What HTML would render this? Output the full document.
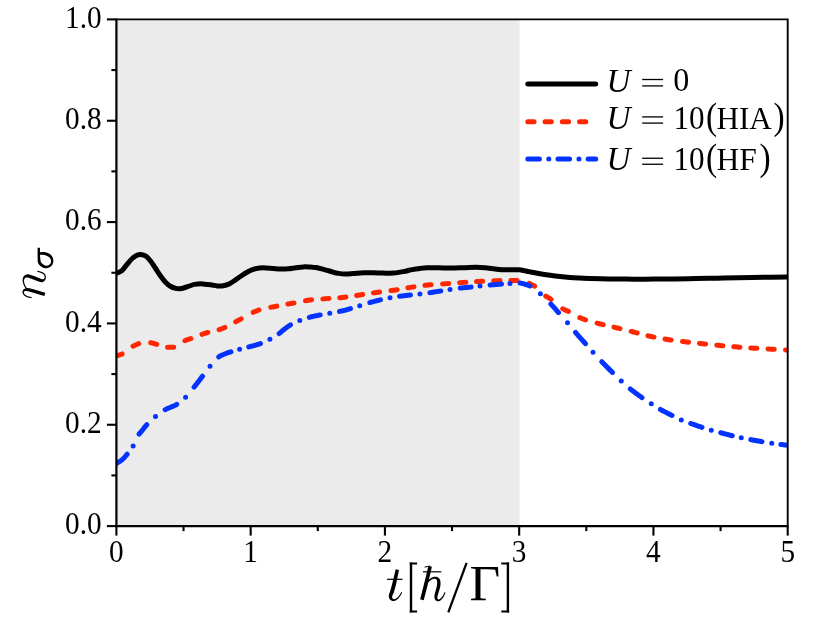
<!DOCTYPE html>
<html><head><meta charset="utf-8"><title>chart</title>
<style>html,body{margin:0;padding:0;background:#fff;overflow:hidden}body{width:831px;height:625px;position:relative;font-family:"Liberation Serif",serif}</style>
</head><body>
<svg width="831" height="625" viewBox="0 0 831 625" style="position:absolute;left:0;top:0;will-change:transform">
<defs><clipPath id="cp"><rect x="116.40" y="19.40" width="671.30" height="506.70"/></clipPath></defs>
<rect x="0" y="0" width="831" height="625" fill="#fff"/>
<rect x="116.4" y="19.4" width="403.10" height="506.70" fill="#EBEBEB"/>
<g clip-path="url(#cp)" fill="none" stroke-linejoin="round">
<path d="M116.50,273.30C117.42,272.85 120.25,272.08 122.00,270.60C123.75,269.12 125.33,266.38 127.00,264.40C128.67,262.42 130.33,260.27 132.00,258.75C133.67,257.23 135.54,255.96 137.00,255.25C138.46,254.54 139.29,254.38 140.75,254.50C142.21,254.62 144.08,254.88 145.75,256.00C147.42,257.12 149.08,259.12 150.75,261.25C152.42,263.38 154.08,266.25 155.75,268.75C157.42,271.25 159.08,273.96 160.75,276.25C162.42,278.54 164.08,280.79 165.75,282.50C167.42,284.21 169.08,285.52 170.75,286.50C172.42,287.48 174.29,288.02 175.75,288.40C177.21,288.77 178.04,288.86 179.50,288.75C180.96,288.64 182.83,288.21 184.50,287.75C186.17,287.29 187.83,286.56 189.50,286.00C191.17,285.44 192.62,284.77 194.50,284.40C196.38,284.02 198.67,283.75 200.75,283.75C202.83,283.75 205.12,284.19 207.00,284.40C208.88,284.61 210.33,284.75 212.00,285.00C213.67,285.25 215.33,285.73 217.00,285.90C218.67,286.07 220.12,286.25 222.00,286.00C223.88,285.75 226.17,285.30 228.25,284.40C230.33,283.50 232.42,281.96 234.50,280.60C236.58,279.24 238.67,277.64 240.75,276.25C242.83,274.86 244.92,273.39 247.00,272.25C249.08,271.11 251.17,270.09 253.25,269.40C255.33,268.71 257.42,268.35 259.50,268.10C261.58,267.85 263.46,267.83 265.75,267.90C268.04,267.97 270.75,268.32 273.25,268.50C275.75,268.68 278.25,268.96 280.75,269.00C283.25,269.04 285.75,268.96 288.25,268.75C290.75,268.54 293.25,268.06 295.75,267.75C298.25,267.44 300.75,267.01 303.25,266.90C305.75,266.79 308.62,267.00 310.75,267.10C312.88,267.20 313.88,267.12 316.00,267.50C318.12,267.88 321.00,268.73 323.50,269.40C326.00,270.07 328.50,270.83 331.00,271.50C333.50,272.17 336.00,272.98 338.50,273.40C341.00,273.82 343.50,273.98 346.00,274.00C348.50,274.02 350.58,273.71 353.50,273.50C356.42,273.29 360.17,272.88 363.50,272.75C366.83,272.62 370.17,272.69 373.50,272.75C376.83,272.81 380.17,273.04 383.50,273.10C386.83,273.16 390.17,273.35 393.50,273.10C396.83,272.85 400.38,272.18 403.50,271.60C406.62,271.02 409.50,270.13 412.25,269.60C415.00,269.07 417.46,268.71 420.00,268.40C422.54,268.09 424.38,267.86 427.50,267.75C430.62,267.64 434.79,267.69 438.75,267.75C442.71,267.81 447.08,268.10 451.25,268.10C455.42,268.10 459.58,267.89 463.75,267.75C467.92,267.61 472.71,267.25 476.25,267.25C479.79,267.25 481.88,267.46 485.00,267.75C488.12,268.04 492.17,268.68 495.00,269.00C497.83,269.32 499.83,269.52 502.00,269.65C504.17,269.78 506.00,269.77 508.00,269.80C510.00,269.83 512.17,269.80 514.00,269.80C515.83,269.80 517.80,269.77 519.00,269.80C520.20,269.83 520.20,269.82 521.20,270.00C522.20,270.18 523.53,270.53 525.00,270.85C526.47,271.17 527.50,271.42 530.00,271.90C532.50,272.38 536.67,273.19 540.00,273.75C543.33,274.31 546.67,274.79 550.00,275.25C553.33,275.71 556.67,276.14 560.00,276.50C563.33,276.86 566.67,277.15 570.00,277.40C573.33,277.65 576.67,277.82 580.00,278.00C583.33,278.18 586.50,278.32 590.00,278.45C593.50,278.58 597.17,278.71 601.00,278.80C604.83,278.89 609.00,278.95 613.00,279.00C617.00,279.05 620.50,279.08 625.00,279.10C629.50,279.12 635.00,279.15 640.00,279.15C645.00,279.15 649.17,279.14 655.00,279.10C660.83,279.06 668.17,278.99 675.00,278.90C681.83,278.81 689.00,278.68 696.00,278.55C703.00,278.43 710.00,278.28 717.00,278.15C724.00,278.02 730.00,277.89 738.00,277.75C746.00,277.61 756.72,277.43 765.00,277.30C773.28,277.18 783.92,277.05 787.70,277.00" stroke="#000" stroke-width="5"/>
<path d="M116.28,355.94L116.40,355.90L116.91,355.74L117.34,355.60L117.69,355.49L118.00,355.39L118.26,355.31L118.50,355.23L118.73,355.16L118.96,355.08L119.22,355.00L119.50,354.90L119.80,354.80L120.10,354.71L120.39,354.62L120.68,354.52L120.97,354.43L121.27,354.33L121.57,354.22L121.87,354.10L122.16,353.97M133.06,346.22L133.10,346.20L133.45,346.01L133.79,345.82L134.14,345.65L134.48,345.49L134.82,345.33L135.16,345.18L135.49,345.03L135.83,344.89L136.16,344.74L136.50,344.60L136.83,344.46L137.17,344.31L137.50,344.17L137.83,344.03L138.16,343.90L138.49,343.77L138.71,343.68M150.67,342.67L151.01,342.73L151.35,342.80L151.69,342.88L152.03,342.96L152.36,343.04L152.69,343.13L153.03,343.21L153.36,343.31L153.70,343.40L154.03,343.50L154.36,343.59L154.67,343.69L154.99,343.79L155.31,343.90L155.63,344.01L155.97,344.12L156.32,344.24L156.64,344.35M167.57,347.15L167.64,347.15L168.06,347.20L168.46,347.23L168.84,347.26L169.22,347.28L169.58,347.29L169.94,347.29L170.29,347.30L170.65,347.30L171.00,347.30L171.35,347.30L171.69,347.30L172.01,347.30L172.34,347.29L172.66,347.28L172.98,347.26L173.30,347.24L173.62,347.20L173.76,347.19M184.99,340.69L185.30,340.50L185.64,340.31L185.98,340.15L186.31,340.01L186.63,339.89L186.94,339.78L187.26,339.68L187.57,339.59L187.88,339.50L188.19,339.40L188.50,339.30L188.81,339.20L189.10,339.10L189.38,339.02L189.66,338.93L189.94,338.85L190.24,338.76L190.54,338.67L190.80,338.58M201.96,334.31L202.11,334.26L202.48,334.13L202.83,334.01L203.15,333.90L203.46,333.79L203.76,333.69L204.06,333.60L204.36,333.50L204.67,333.40L205.00,333.30L205.33,333.20L205.65,333.10L205.96,333.00L206.27,332.90L206.59,332.81L206.91,332.71L207.25,332.61L207.61,332.51L207.87,332.44M219.11,329.67L219.43,329.57L219.82,329.45L220.18,329.33L220.52,329.22L220.84,329.10L221.15,328.98L221.45,328.87L221.76,328.75L222.07,328.63L222.40,328.50L222.73,328.37L223.03,328.25L223.33,328.13L223.63,328.01L223.93,327.89L224.24,327.76L224.57,327.61L224.91,327.46M235.65,321.81L235.75,321.75L236.20,321.50L236.61,321.27L237.00,321.06L237.35,320.87L237.69,320.69L238.01,320.52L238.33,320.36L238.64,320.20L238.95,320.04L239.27,319.87L239.60,319.70L239.93,319.53L240.24,319.37L240.54,319.21L240.84,319.06L241.13,318.90M253.24,312.36L253.98,312.01L254.87,311.59L255.76,311.20L256.64,310.83L257.50,310.50L258.35,310.20L258.96,310.00M270.76,307.27L270.76,307.27L271.66,307.11L272.65,306.93L273.75,306.73L275.00,306.50L276.41,306.23L276.86,306.15M287.86,304.07L288.86,303.88L290.71,303.53L292.50,303.20L293.95,302.93M305.46,300.72L306.66,300.51L308.35,300.24L310.00,300.00L311.59,299.80M322.79,298.91L323.41,298.87L325.00,298.75L326.65,298.63L328.35,298.52L328.98,298.48M339.74,297.76L340.76,297.68L342.50,297.50L344.21,297.30L345.90,297.08M356.57,295.44L357.71,295.26L359.40,295.00L361.08,294.75L362.70,294.51M373.47,292.90L374.54,292.74L376.25,292.50L377.98,292.26L379.62,292.05M390.98,290.59L392.02,290.45L393.75,290.20L395.46,289.94L397.11,289.67M407.87,287.84L408.91,287.67L410.60,287.40L412.30,287.14L413.99,286.88M424.98,285.32L426.03,285.19L427.75,285.00L429.47,284.83L431.15,284.68M442.50,283.92L443.27,283.87L445.00,283.75L446.73,283.62L448.45,283.50L448.68,283.48M459.59,282.68L460.53,282.62L462.25,282.50L463.97,282.38L465.69,282.26L465.78,282.26M476.50,281.56L477.69,281.49L479.40,281.40L481.11,281.31L482.69,281.23M493.75,280.79L494.78,280.75L496.50,280.70L498.27,280.65L499.95,280.61M510.90,280.42L511.00,280.42L512.47,280.41L513.75,280.40L514.82,280.39L515.69,280.38L516.41,280.38L517.01,280.37L517.10,280.38M529.19,283.25L529.23,283.27L529.63,283.49L530.03,283.71L530.42,283.94L530.83,284.17L531.25,284.40L531.67,284.61L532.06,284.79L532.44,284.96L532.81,285.13L533.19,285.30L533.59,285.51L534.02,285.76L534.49,286.06L534.65,286.18M545.75,296.10L545.76,296.11L546.16,296.35L546.54,296.57L546.91,296.78L547.29,297.00L547.68,297.23L548.10,297.50L548.52,297.77L548.92,298.01L549.30,298.24L549.68,298.46L550.07,298.69L550.47,298.94L550.91,299.22L551.05,299.32M562.71,308.84L562.72,308.85L563.16,309.06L563.58,309.24L564.00,309.42L564.41,309.59L564.85,309.78L565.30,310.00L565.76,310.22L566.20,310.42L566.62,310.61L567.05,310.80L567.47,310.98L567.92,311.18L568.36,311.38M579.76,317.66L580.02,317.77L580.45,317.94L580.88,318.10L581.30,318.26L581.74,318.42L582.20,318.60L582.63,318.77L583.02,318.92L583.36,319.06L583.71,319.20L584.06,319.33L584.46,319.47L584.92,319.63L585.46,319.81L585.57,319.84M597.16,323.17L597.89,323.36L599.40,323.75L600.99,324.14L602.67,324.55L603.18,324.67M613.94,327.15L615.69,327.57L617.50,328.00L619.29,328.44L619.96,328.60M631.17,331.43L631.67,331.55L633.35,331.98L635.00,332.40L636.59,332.81L637.18,332.97M647.93,335.78L648.41,335.89L650.00,336.25L651.65,336.60L653.34,336.95L653.99,337.08M664.97,339.09L665.74,339.22L667.50,339.50L669.25,339.77L671.00,340.02L671.09,340.03M682.48,341.45L683.25,341.54L685.00,341.75L686.75,341.96L688.50,342.17L688.64,342.19M699.48,343.42L700.75,343.56L702.50,343.75L704.25,343.94L705.65,344.08M716.74,345.19L718.25,345.34L720.00,345.50L721.75,345.66L722.91,345.77M733.74,346.70L734.00,346.72L735.75,346.86L737.50,347.00L739.25,347.14L739.92,347.19M750.74,347.97L751.50,348.02L753.25,348.14L755.00,348.25L756.76,348.36L756.93,348.37M768.00,349.01L769.15,349.07L770.84,349.16L772.50,349.25L774.18,349.34L774.19,349.34M785.50,349.89L785.67,349.90L786.81,349.96L787.70,350.00L791.70,350.19" stroke="#FF2600" stroke-width="5" stroke-linecap="round"/>
<path d="M114.50,464.69L115.00,464.37L115.81,463.85L116.50,463.40L117.09,463.02L117.62,462.70L118.11,462.41L118.55,462.14L118.97,461.89L119.37,461.65L119.76,461.40L120.16,461.13L120.57,460.83L121.00,460.50L121.44,460.16L121.85,459.83L122.25,459.52L122.65,459.19L123.06,458.84L123.48,458.45L123.92,458.02L124.40,457.51L124.92,456.93L125.50,456.25L126.15,455.46L126.86,454.57L127.10,454.27M139.10,434.08L139.38,433.69L139.83,433.12L140.28,432.58L140.72,432.07L141.16,431.57L141.61,431.06L142.05,430.55L142.50,430.00L142.93,429.45L143.34,428.92L143.72,428.41L144.11,427.90L144.50,427.39L144.91,426.87L145.36,426.33L145.84,425.76L146.39,425.15L146.80,424.71M165.20,409.67L165.75,409.39L166.36,409.10L166.95,408.83L167.54,408.57L168.13,408.32L168.73,408.07L169.35,407.80L170.00,407.50L170.66,407.20L171.33,406.93L171.99,406.66L172.67,406.40L173.35,406.13L174.05,405.84L174.76,405.51L175.49,405.15L176.23,404.73L176.75,404.41M194.10,387.07L194.36,386.75L194.92,386.06L195.43,385.43L195.91,384.83L196.35,384.27L196.78,383.72L197.20,383.18L197.62,382.64L198.05,382.08L198.50,381.50L198.95,380.91L199.38,380.34L199.81,379.79L200.22,379.23L200.64,378.67L201.07,378.10L201.51,377.50L201.98,376.88L202.47,376.21L202.50,376.17M218.70,356.93L219.34,356.46L219.94,356.07L220.52,355.75L221.08,355.48L221.63,355.24L222.19,355.02L222.76,354.80L223.36,354.57L224.00,354.30L224.67,354.02L225.35,353.75L226.05,353.48L226.76,353.23L227.48,352.98L228.22,352.73L228.96,352.49L229.72,352.24L230.48,352.00L230.95,351.85M248.80,346.86L249.01,346.81L249.74,346.63L250.44,346.46L251.12,346.29L251.78,346.13L252.43,345.98L253.07,345.82L253.71,345.65L254.35,345.48L255.00,345.30L255.63,345.12L256.24,344.94L256.83,344.77L257.42,344.60L258.00,344.42L258.59,344.23L259.21,344.02L259.85,343.79L260.50,343.55M279.10,333.50L279.47,333.23L280.15,332.71L280.79,332.19L281.39,331.68L281.98,331.17L282.57,330.67L283.15,330.18L283.74,329.68L284.36,329.19L285.00,328.70L285.67,328.21L286.34,327.72L287.01,327.23L287.70,326.74L288.39,326.25L289.09,325.78L289.80,325.31L290.50,324.87M309.40,317.37L310.00,317.20L310.90,316.95L311.75,316.73L312.57,316.52L313.38,316.33L314.17,316.15L314.97,315.97L315.80,315.80L316.65,315.62L317.55,315.44L318.50,315.25L319.53,315.05L320.20,314.92M339.50,311.39L340.10,311.27L340.81,311.13L341.51,310.99L342.20,310.84L342.89,310.69L343.59,310.54L344.29,310.37L345.00,310.20L345.72,310.02L346.44,309.82L347.16,309.62L347.88,309.42L348.60,309.21L349.32,308.99L350.05,308.77L350.50,308.63M369.80,302.56L370.10,302.48L370.81,302.28L371.51,302.10L372.20,301.92L372.89,301.74L373.59,301.56L374.29,301.38L375.00,301.20L375.72,301.02L376.43,300.83L377.15,300.65L377.87,300.47L378.58,300.29L379.31,300.11L380.03,299.93L380.50,299.82M399.55,296.28L400.08,296.21L400.79,296.12L401.49,296.03L402.19,295.94L402.88,295.86L403.58,295.77L404.29,295.69L405.00,295.60L405.72,295.51L406.43,295.43L407.15,295.34L407.87,295.26L408.58,295.17L409.31,295.09L410.03,295.00L410.50,294.95M429.90,292.75L430.47,292.65L431.21,292.53L431.96,292.41L432.71,292.28L433.46,292.15L434.23,292.03L435.00,291.90L435.79,291.77L436.60,291.64L437.42,291.51L438.25,291.37L439.09,291.24L439.92,291.10L440.74,290.97L440.80,290.96M460.20,288.08L460.47,288.05L461.21,287.97L461.96,287.89L462.71,287.82L463.46,287.75L464.23,287.67L465.00,287.60L465.79,287.53L466.60,287.46L467.42,287.39L468.25,287.32L469.09,287.26L469.92,287.19L470.74,287.12L471.10,287.09M490.10,285.01L490.47,284.98L491.21,284.92L491.96,284.85L492.71,284.79L493.46,284.73L494.23,284.66L495.00,284.60L495.79,284.54L496.60,284.47L497.42,284.41L498.25,284.35L499.09,284.28L499.92,284.22L500.74,284.16L501.50,284.11M520.10,283.07L520.31,283.09L520.63,283.13L520.95,283.19L521.28,283.25L521.62,283.32L522.00,283.40L522.38,283.48L522.75,283.57L523.11,283.66L523.47,283.75L523.84,283.86L524.22,283.98L524.61,284.11L525.04,284.25L525.50,284.42L526.00,284.60L526.54,284.79L527.12,284.98L527.72,285.17L528.35,285.37L529.01,285.59L529.68,285.84L530.00,285.98M550.80,304.00L551.25,304.47L551.80,305.06L552.34,305.64L552.88,306.21L553.41,306.79L553.95,307.39L554.50,308.00L555.05,308.62L555.58,309.23L556.11,309.84L556.62,310.44L557.14,311.06L557.67,311.69L558.21,312.33L558.50,312.67M575.50,332.39L575.54,332.44L576.54,333.62L577.50,334.75L578.43,335.83L579.36,336.88L580.28,337.90L581.19,338.91L582.08,339.89L582.95,340.85L583.81,341.79L584.65,342.71L585.46,343.62L585.50,343.66M601.80,361.77L602.50,362.50L603.49,363.52L604.49,364.54L605.50,365.57L606.52,366.59L607.55,367.61L608.57,368.62L609.58,369.62L610.57,370.60L611.55,371.56L612.40,372.40M630.30,388.99L631.12,389.63L632.32,390.56L633.59,391.52L634.91,392.51L636.25,393.50L637.59,394.48L638.91,395.43L640.18,396.35L641.38,397.21L642.00,397.65M660.40,409.47L661.12,409.87L662.32,410.52L663.59,411.20L664.91,411.89L666.25,412.58L667.59,413.26L668.91,413.93L670.18,414.58L671.38,415.19L672.00,415.50M690.70,423.45L691.12,423.59L692.32,424.01L693.59,424.46L694.91,424.92L696.25,425.38L697.59,425.84L698.91,426.29L700.18,426.72L701.38,427.13L702.00,427.33M720.70,432.78L721.20,432.91L722.53,433.26L723.95,433.62L725.44,434.01L726.95,434.39L728.46,434.78L729.93,435.15L731.32,435.50L732.30,435.74M750.80,439.65L751.20,439.73L752.52,439.97L753.94,440.23L755.42,440.51L756.92,440.78L758.42,441.05L759.89,441.32L761.29,441.57L762.00,441.69M780.80,444.43L781.65,444.53L783.40,444.75L785.02,444.96L786.47,445.14L787.70,445.30L788.73,445.43L789.63,445.55L790.42,445.65L790.50,445.66M133.10,445.90l0.01,0M155.50,416.50l0.01,0M185.60,397.20l0.01,0M210.00,366.15l0.01,0M239.60,349.27l0.01,0M269.90,339.30l0.01,0M299.80,320.58l0.01,0M329.75,313.20l0.01,0M359.75,305.70l0.01,0M390.00,297.70l0.01,0M419.90,293.91l0.01,0M450.00,289.60l0.01,0M480.00,286.00l0.01,0M510.00,283.60l0.01,0M540.40,293.75l0.01,0M567.50,322.75l0.01,0M593.00,352.25l0.01,0M621.25,381.00l0.01,0M651.25,403.75l0.01,0M681.25,420.00l0.01,0M711.25,430.25l0.01,0M741.25,437.75l0.01,0M771.75,443.25l0.01,0" stroke="#0433FF" stroke-width="5" stroke-linecap="round"/>
</g>
<path d="M116.4,18.45V527.20M115.30,526.1H788.65" fill="none" stroke="#000" stroke-width="2.2"/>
<path d="M116.4,19.4H788.65M787.7,19.4V526.1" fill="none" stroke="#000" stroke-width="1.9"/>
<g stroke="#000" stroke-width="2.1">
<line x1="116.40" y1="526.1" x2="116.40" y2="535.6"/>
<line x1="250.66" y1="526.1" x2="250.66" y2="535.6"/>
<line x1="384.92" y1="526.1" x2="384.92" y2="535.6"/>
<line x1="519.18" y1="526.1" x2="519.18" y2="535.6"/>
<line x1="653.44" y1="526.1" x2="653.44" y2="535.6"/>
<line x1="787.70" y1="526.1" x2="787.70" y2="535.6"/>
<line x1="183.53" y1="526.1" x2="183.53" y2="531.1"/>
<line x1="317.79" y1="526.1" x2="317.79" y2="531.1"/>
<line x1="452.05" y1="526.1" x2="452.05" y2="531.1"/>
<line x1="586.31" y1="526.1" x2="586.31" y2="531.1"/>
<line x1="720.57" y1="526.1" x2="720.57" y2="531.1"/>
<line x1="116.4" y1="526.10" x2="106.9" y2="526.10"/>
<line x1="116.4" y1="424.76" x2="106.9" y2="424.76"/>
<line x1="116.4" y1="323.42" x2="106.9" y2="323.42"/>
<line x1="116.4" y1="222.08" x2="106.9" y2="222.08"/>
<line x1="116.4" y1="120.74" x2="106.9" y2="120.74"/>
<line x1="116.4" y1="19.40" x2="106.9" y2="19.40"/>
<line x1="116.4" y1="475.43" x2="111.4" y2="475.43"/>
<line x1="116.4" y1="374.09" x2="111.4" y2="374.09"/>
<line x1="116.4" y1="272.75" x2="111.4" y2="272.75"/>
<line x1="116.4" y1="171.41" x2="111.4" y2="171.41"/>
<line x1="116.4" y1="70.07" x2="111.4" y2="70.07"/>
</g>
<g font-family="'Liberation Serif', serif" font-size="31" fill="#000">
<text transform="translate(116.40,561.6) scale(0.945,1)" text-anchor="middle">0</text>
<text transform="translate(250.66,561.6) scale(0.945,1)" text-anchor="middle">1</text>
<text transform="translate(384.92,561.6) scale(0.945,1)" text-anchor="middle">2</text>
<text transform="translate(519.18,561.6) scale(0.945,1)" text-anchor="middle">3</text>
<text transform="translate(653.44,561.6) scale(0.945,1)" text-anchor="middle">4</text>
<text transform="translate(787.70,561.6) scale(0.945,1)" text-anchor="middle">5</text>
<text transform="translate(101.6,534.20) scale(0.945,1)" text-anchor="end">0.0</text>
<text transform="translate(101.6,432.86) scale(0.945,1)" text-anchor="end">0.2</text>
<text transform="translate(101.6,331.52) scale(0.945,1)" text-anchor="end">0.4</text>
<text transform="translate(101.6,230.18) scale(0.945,1)" text-anchor="end">0.6</text>
<text transform="translate(101.6,128.84) scale(0.945,1)" text-anchor="end">0.8</text>
<text transform="translate(101.6,27.50) scale(0.945,1)" text-anchor="end">1.0</text>
</g>
<g fill="none" stroke-linecap="round">
<line x1="527.8" y1="84.0" x2="595.7" y2="84.0" stroke="#000" stroke-width="5"/>
<line x1="527.8" y1="121.75" x2="588" y2="121.75" stroke="#FF2600" stroke-width="5" stroke-dasharray="6.25 11"/>
<line x1="527.8" y1="159.0" x2="595.7" y2="159.0" stroke="#0433FF" stroke-width="5" stroke-dasharray="11.6 9.4 0.01 9.15"/>
</g>
<text font-family="'Liberation Serif', serif" font-size="33.2" font-style="italic" transform="translate(606.5,91.5) scale(1,1)" fill="#000">U</text>
<text font-family="'Liberation Serif', serif" font-size="33.2" font-style="italic" transform="translate(606.5,128.9) scale(1,1)" fill="#000">U</text>
<text font-family="'Liberation Serif', serif" font-size="33.2" font-style="italic" transform="translate(606.5,169.8) scale(1,1)" fill="#000">U</text>
<text font-family="'Liberation Serif', serif" font-size="33.5" transform="translate(673.2,91.3) scale(0.96,1)" fill="#000">0</text>
<text font-family="'Liberation Serif', serif" font-size="33.5" transform="translate(673.4,128.7) scale(0.93,1)" fill="#000">10</text>
<text font-family="'Liberation Serif', serif" font-size="33.5" transform="translate(673.4,169.6) scale(0.93,1)" fill="#000">10</text>
<text font-family="'Liberation Serif', serif" font-size="33.5" transform="translate(706.1,129.3) scale(1,1.107)" fill="#000">(</text>
<text font-family="'Liberation Serif', serif" font-size="32.5" textLength="55.4" lengthAdjust="spacingAndGlyphs" transform="translate(716.4,128.7) scale(1,1)" fill="#000">HIA</text>
<text font-family="'Liberation Serif', serif" font-size="33.5" transform="translate(773.6,129.3) scale(1,1.107)" fill="#000">)</text>
<text font-family="'Liberation Serif', serif" font-size="33.5" transform="translate(706.1,170.2) scale(1,1.107)" fill="#000">(</text>
<text font-family="'Liberation Serif', serif" font-size="32.5" textLength="40.3" lengthAdjust="spacingAndGlyphs" transform="translate(716.4,169.6) scale(1,1)" fill="#000">HF</text>
<text font-family="'Liberation Serif', serif" font-size="33.5" transform="translate(759.4,170.2) scale(1,1.107)" fill="#000">)</text>
<text font-family="'Liberation Serif', serif" font-size="51.5" transform="translate(469.6,599.7) scale(1.03,1)" fill="#000">Γ</text>
<rect x="642.1999999999999" y="78.85" width="20.9" height="1.3" fill="#000"/>
<rect x="642.1999999999999" y="85.25" width="20.9" height="1.3" fill="#000"/>
<rect x="642.1999999999999" y="116.25" width="20.9" height="1.3" fill="#000"/>
<rect x="642.1999999999999" y="122.45" width="20.9" height="1.3" fill="#000"/>
<rect x="642.1999999999999" y="157.6" width="20.9" height="1.3" fill="#000"/>
<rect x="642.1999999999999" y="163.6" width="20.9" height="1.3" fill="#000"/>
<path d="M411,562.5V612.4" fill="none" stroke="#000" stroke-width="2.4" stroke-linecap="butt" stroke-linejoin="miter"/>
<path d="M409.8,563.45H417.1M409.8,611.45H417.1" fill="none" stroke="#000" stroke-width="1.9" stroke-linecap="butt" stroke-linejoin="miter"/>
<path d="M507.9,562.5V612.4" fill="none" stroke="#000" stroke-width="2.4" stroke-linecap="butt" stroke-linejoin="miter"/>
<path d="M509.1,563.45H501.3M509.1,611.45H501.3" fill="none" stroke="#000" stroke-width="1.9" stroke-linecap="butt" stroke-linejoin="miter"/>
<path d="M448.3,612.4L466.6,562.8" fill="none" stroke="#000" stroke-width="2.25" stroke-linecap="butt" stroke-linejoin="miter"/>
<path d="M31.24,296.98L31.06,296.93L30.83,296.89L30.57,296.83L30.27,296.78L29.96,296.71L29.63,296.64L29.29,296.57L28.95,296.49L28.62,296.41L28.30,296.32L28.01,296.23L27.75,296.14L27.49,296.04L27.24,295.93L26.98,295.82L26.73,295.70L26.49,295.58L26.25,295.46L26.02,295.33L25.80,295.20L25.60,295.06L25.41,294.92L25.23,294.79L25.06,294.64L24.91,294.49L24.76,294.33L24.61,294.17L24.47,294.00L24.34,293.83L24.23,293.66L24.13,293.48L24.04,293.31L23.97,293.15L23.92,292.99L23.89,292.84L23.87,292.70L23.87,292.56L23.89,292.42L23.92,292.26L23.96,292.11L24.01,291.95L24.08,291.81L24.16,291.67L24.25,291.54L24.34,291.42L24.44,291.33L24.53,291.26L24.63,291.20L24.73,291.15L24.86,291.10L25.01,291.05L25.17,291.01L25.35,290.98L25.53,290.95L25.72,290.93L25.92,290.92L26.12,290.91L26.33,290.91L26.53,290.92L26.72,290.94L26.91,290.96L27.10,291.00L27.31,291.04L27.52,291.09L27.76,291.15L28.02,291.23L28.29,291.31L28.59,291.40L28.91,291.49L29.26,291.59L29.63,291.70L30.01,291.81L30.41,291.92L30.83,292.03L31.27,292.16L31.73,292.29L32.21,292.43L32.70,292.57L33.20,292.71L33.71,292.86L34.21,293.00L34.72,293.15L35.22,293.30L35.70,293.44L36.19,293.58L36.69,293.73L37.20,293.88L37.72,294.04L38.23,294.19L38.75,294.35L39.25,294.50L39.74,294.65L40.21,294.79L40.65,294.92L41.07,295.05L41.45,295.16L41.80,295.27L42.13,295.37L42.44,295.46L42.73,295.55L43.00,295.63L43.25,295.71L43.48,295.77L43.69,295.84L43.88,295.89L44.05,295.95L44.20,295.99L44.33,296.03L45.30,292.80L45.17,292.76L45.02,292.72L44.85,292.67L44.66,292.61L44.45,292.55L44.22,292.48L43.97,292.40L43.70,292.32L43.41,292.23L43.10,292.14L42.77,292.04L42.42,291.94L42.04,291.82L41.63,291.70L41.19,291.56L40.72,291.42L40.23,291.27L39.72,291.12L39.21,290.96L38.69,290.80L38.16,290.65L37.65,290.49L37.14,290.35L36.64,290.20L36.16,290.06L35.66,289.92L35.15,289.77L34.65,289.62L34.13,289.48L33.63,289.33L33.12,289.19L32.63,289.06L32.14,288.93L31.68,288.81L31.23,288.70L30.81,288.61L30.42,288.52L30.06,288.44L29.70,288.37L29.35,288.30L29.01,288.23L28.67,288.17L28.34,288.12L28.00,288.08L27.65,288.06L27.31,288.05L26.95,288.06L26.60,288.09L26.26,288.15L25.93,288.22L25.61,288.31L25.30,288.42L25.00,288.55L24.71,288.69L24.44,288.84L24.17,289.00L23.93,289.18L23.70,289.37L23.48,289.57L23.28,289.79L23.10,290.03L22.94,290.28L22.82,290.53L22.71,290.79L22.62,291.06L22.56,291.33L22.51,291.59L22.48,291.86L22.47,292.13L22.47,292.39L22.50,292.65L22.54,292.90L22.60,293.15L22.68,293.40L22.78,293.64L22.90,293.88L23.03,294.11L23.17,294.34L23.32,294.56L23.48,294.78L23.66,294.99L23.84,295.19L24.03,295.38L24.23,295.57L24.44,295.75L24.66,295.92L24.90,296.09L25.14,296.25L25.40,296.40L25.66,296.55L25.92,296.69L26.19,296.83L26.47,296.95L26.74,297.08L27.02,297.19L27.31,297.31L27.62,297.41L27.95,297.52L28.30,297.61L28.65,297.70L29.01,297.79L29.36,297.86L29.70,297.94L30.03,298.00L30.32,298.06L30.58,298.11L30.79,298.16L30.96,298.19L31.21,298.20L31.43,298.11L31.61,297.95L31.71,297.72L31.72,297.48L31.63,297.25L31.46,297.07Z" fill="#000"/>
<path d="M27.72,288.95L27.62,288.82L27.49,288.66L27.34,288.49L27.17,288.29L26.99,288.09L26.80,287.86L26.61,287.63L26.42,287.39L26.24,287.15L26.06,286.91L25.90,286.67L25.76,286.44L25.63,286.19L25.49,285.94L25.36,285.67L25.22,285.40L25.09,285.12L24.97,284.84L24.85,284.55L24.74,284.26L24.64,283.97L24.54,283.69L24.46,283.41L24.38,283.13L24.32,282.85L24.25,282.56L24.20,282.28L24.14,282.00L24.10,281.71L24.07,281.44L24.04,281.16L24.03,280.90L24.03,280.64L24.05,280.39L24.08,280.16L24.12,279.93L24.18,279.70L24.25,279.47L24.33,279.24L24.43,279.02L24.54,278.80L24.65,278.60L24.77,278.40L24.90,278.23L25.03,278.08L25.17,277.95L25.29,277.85L25.42,277.76L25.57,277.68L25.72,277.61L25.88,277.55L26.04,277.50L26.20,277.47L26.37,277.44L26.53,277.43L26.70,277.42L26.88,277.43L27.07,277.44L27.26,277.46L27.46,277.49L27.66,277.53L27.90,277.58L28.19,277.66L28.50,277.76L28.84,277.87L29.21,278.00L29.59,278.14L29.98,278.28L30.38,278.43L30.78,278.58L31.19,278.73L31.59,278.87L31.96,279.00L32.34,279.14L32.72,279.28L33.11,279.43L33.50,279.58L33.89,279.73L34.28,279.87L34.67,280.02L35.05,280.17L35.42,280.31L35.79,280.45L36.13,280.58L36.46,280.70L36.78,280.82L37.10,280.94L37.41,281.06L37.71,281.18L38.01,281.29L38.31,281.40L38.60,281.51L38.88,281.61L39.16,281.70L39.44,281.79L39.70,281.86L39.92,281.92L40.12,281.97L40.31,282.02L40.51,282.07L40.71,282.11L40.93,282.16L41.16,282.19L41.40,282.21L41.65,282.21L41.91,282.20L42.17,282.16L42.42,282.11L42.67,282.03L42.90,281.94L43.14,281.84L43.36,281.72L43.58,281.59L43.80,281.44L44.01,281.29L44.21,281.12L44.40,280.95L44.58,280.77L44.76,280.57L44.91,280.37L45.05,280.17L45.18,279.97L45.29,279.76L45.41,279.54L45.51,279.31L45.60,279.08L45.69,278.84L45.76,278.59L45.82,278.34L45.86,278.09L45.89,277.83L45.90,277.57L45.90,277.31L45.89,277.05L45.86,276.78L45.83,276.50L45.78,276.22L45.72,275.93L45.65,275.65L45.56,275.37L45.46,275.09L45.34,274.81L45.20,274.55L45.05,274.29L44.88,274.06L44.69,273.84L44.49,273.62L44.28,273.42L44.05,273.22L43.82,273.04L43.57,272.86L43.32,272.69L43.05,272.52L42.78,272.37L42.50,272.21L42.21,272.07L41.88,271.92L41.52,271.77L41.14,271.64L40.74,271.51L40.33,271.38L39.93,271.27L39.54,271.16L39.16,271.06L38.82,270.97L38.52,270.89L38.27,270.82L38.08,270.76L37.84,270.74L37.60,270.81L37.42,270.97L37.30,271.18L37.28,271.43L37.35,271.66L37.51,271.85L37.73,271.96L37.93,272.02L38.19,272.09L38.50,272.17L38.84,272.26L39.20,272.36L39.59,272.47L39.98,272.58L40.36,272.70L40.73,272.82L41.08,272.94L41.39,273.07L41.67,273.19L41.92,273.32L42.17,273.46L42.41,273.60L42.64,273.74L42.86,273.88L43.06,274.03L43.25,274.19L43.43,274.34L43.60,274.50L43.75,274.66L43.89,274.83L44.01,275.00L44.12,275.17L44.22,275.36L44.32,275.56L44.40,275.77L44.48,275.99L44.54,276.22L44.60,276.45L44.63,276.67L44.66,276.90L44.67,277.11L44.67,277.31L44.66,277.49L44.63,277.65L44.58,277.81L44.52,277.96L44.45,278.11L44.36,278.26L44.26,278.40L44.16,278.54L44.05,278.67L43.93,278.78L43.81,278.89L43.69,278.99L43.57,279.06L43.46,279.12L43.34,279.17L43.21,279.21L43.08,279.25L42.94,279.27L42.79,279.30L42.65,279.31L42.50,279.32L42.37,279.32L42.24,279.31L42.12,279.30L42.03,279.29L41.95,279.27L41.90,279.24L41.86,279.22L41.82,279.19L41.76,279.16L41.68,279.12L41.59,279.08L41.46,279.03L41.31,278.96L41.14,278.89L40.93,278.81L40.72,278.73L40.51,278.65L40.29,278.56L40.06,278.46L39.81,278.36L39.55,278.25L39.27,278.13L38.98,278.01L38.68,277.89L38.36,277.76L38.04,277.63L37.70,277.49L37.36,277.36L37.02,277.23L36.67,277.09L36.31,276.94L35.93,276.79L35.54,276.64L35.14,276.48L34.74,276.33L34.33,276.17L33.91,276.02L33.50,275.88L33.09,275.74L32.69,275.61L32.31,275.48L31.92,275.35L31.51,275.22L31.10,275.08L30.67,274.94L30.24,274.81L29.81,274.68L29.37,274.57L28.93,274.48L28.49,274.40L28.04,274.35L27.60,274.34L27.18,274.37L26.79,274.42L26.41,274.50L26.05,274.61L25.71,274.74L25.39,274.90L25.09,275.07L24.81,275.26L24.54,275.46L24.30,275.68L24.08,275.90L23.87,276.14L23.66,276.40L23.48,276.69L23.32,276.98L23.18,277.28L23.06,277.58L22.96,277.89L22.88,278.20L22.80,278.51L22.74,278.82L22.70,279.12L22.66,279.43L22.63,279.74L22.62,280.05L22.62,280.36L22.64,280.67L22.67,280.99L22.70,281.30L22.75,281.62L22.81,281.93L22.87,282.24L22.94,282.55L23.02,282.85L23.09,283.15L23.18,283.45L23.27,283.76L23.37,284.07L23.47,284.38L23.59,284.69L23.71,285.00L23.83,285.31L23.96,285.62L24.10,285.92L24.24,286.22L24.38,286.51L24.53,286.79L24.68,287.06L24.85,287.34L25.03,287.62L25.23,287.89L25.43,288.16L25.64,288.42L25.84,288.66L26.04,288.89L26.22,289.11L26.39,289.31L26.54,289.48L26.66,289.62L26.75,289.74L26.94,289.89L27.17,289.96L27.42,289.94L27.63,289.83L27.79,289.64L27.86,289.41L27.84,289.17Z" fill="#000"/>
<path d="M37.60,247.76L37.60,247.99L37.60,248.27L37.60,248.61L37.60,248.98L37.60,249.39L37.60,249.83L37.60,250.28L37.60,250.75L37.60,251.22L37.60,251.68L37.60,252.14L37.60,252.58L37.60,253.00L37.60,253.43L37.60,253.87L37.60,254.32L37.59,254.77L37.59,255.22L37.59,255.68L37.59,256.14L37.60,256.60L37.61,257.05L37.62,257.50L37.64,257.93L37.66,258.34L37.66,258.75L37.66,259.17L37.65,259.59L37.65,260.03L37.66,260.48L37.68,260.94L37.73,261.40L37.80,261.87L37.90,262.35L38.05,262.83L38.25,263.30L38.48,263.74L38.74,264.16L39.02,264.56L39.33,264.94L39.66,265.30L40.00,265.65L40.36,265.97L40.73,266.28L41.10,266.56L41.48,266.82L41.87,267.06L42.26,267.28L42.67,267.47L43.09,267.64L43.52,267.79L43.95,267.91L44.40,268.02L44.84,268.10L45.29,268.15L45.73,268.19L46.17,268.20L46.61,268.19L47.04,268.15L47.47,268.09L47.89,267.99L48.31,267.87L48.72,267.71L49.11,267.54L49.50,267.34L49.87,267.12L50.22,266.89L50.56,266.64L50.89,266.38L51.19,266.11L51.48,265.83L51.74,265.54L51.98,265.23L52.20,264.90L52.40,264.56L52.58,264.20L52.73,263.84L52.87,263.48L52.99,263.11L53.09,262.73L53.17,262.36L53.23,261.98L53.28,261.61L53.31,261.24L53.32,260.85L53.31,260.46L53.28,260.07L53.24,259.68L53.17,259.28L53.09,258.89L53.00,258.49L52.89,258.11L52.76,257.73L52.61,257.36L52.45,257.00L52.26,256.65L52.06,256.31L51.83,255.99L51.58,255.68L51.33,255.38L51.06,255.11L50.78,254.85L50.49,254.60L50.20,254.36L49.90,254.14L49.60,253.94L49.29,253.74L48.98,253.55L48.65,253.37L48.30,253.20L47.94,253.05L47.58,252.90L47.21,252.77L46.84,252.65L46.47,252.54L46.10,252.44L45.73,252.36L45.37,252.28L45.02,252.21L44.66,252.15L44.29,252.10L43.92,252.06L43.55,252.04L43.19,252.03L42.83,252.03L42.48,252.04L42.14,252.06L41.81,252.08L41.50,252.10L41.21,252.13L40.94,252.16L40.67,252.20L40.40,252.24L40.13,252.30L39.88,252.37L39.65,252.45L39.44,252.53L39.25,252.61L39.09,252.69L38.95,252.76L38.84,252.82L38.76,252.87L38.72,252.89L38.68,252.90L39.56,255.10L39.67,255.06L39.81,255.00L39.92,254.94L40.02,254.89L40.12,254.85L40.22,254.81L40.32,254.77L40.43,254.73L40.54,254.70L40.65,254.68L40.78,254.67L40.93,254.66L41.13,254.65L41.37,254.64L41.62,254.64L41.89,254.65L42.17,254.65L42.46,254.67L42.75,254.69L43.04,254.71L43.33,254.75L43.61,254.79L43.88,254.84L44.14,254.90L44.42,254.96L44.71,255.04L45.00,255.13L45.30,255.23L45.60,255.33L45.89,255.44L46.19,255.55L46.47,255.67L46.75,255.79L47.01,255.92L47.26,256.05L47.50,256.18L47.75,256.32L48.00,256.46L48.25,256.61L48.49,256.76L48.72,256.92L48.94,257.07L49.14,257.23L49.34,257.39L49.52,257.56L49.69,257.72L49.84,257.90L49.98,258.07L50.12,258.27L50.25,258.50L50.38,258.74L50.51,259.00L50.63,259.26L50.73,259.54L50.82,259.82L50.90,260.11L50.97,260.39L51.01,260.66L51.04,260.92L51.05,261.17L51.04,261.42L51.02,261.69L50.98,261.95L50.93,262.22L50.86,262.49L50.77,262.75L50.68,263.01L50.57,263.25L50.45,263.48L50.32,263.69L50.18,263.89L50.03,264.07L49.86,264.24L49.66,264.43L49.44,264.61L49.20,264.78L48.94,264.95L48.68,265.11L48.41,265.25L48.13,265.37L47.86,265.47L47.59,265.55L47.34,265.61L47.09,265.65L46.85,265.66L46.58,265.65L46.29,265.63L45.99,265.59L45.68,265.53L45.37,265.45L45.07,265.36L44.76,265.26L44.47,265.14L44.18,265.01L43.91,264.87L43.66,264.73L43.41,264.57L43.15,264.39L42.88,264.19L42.62,263.97L42.36,263.74L42.11,263.49L41.87,263.24L41.64,262.98L41.44,262.73L41.25,262.47L41.09,262.22L40.95,261.98L40.85,261.76L40.75,261.51L40.67,261.24L40.59,260.93L40.52,260.60L40.47,260.25L40.42,259.87L40.38,259.47L40.34,259.05L40.30,258.63L40.26,258.19L40.22,257.75L40.17,257.33L40.14,256.92L40.11,256.49L40.08,256.06L40.06,255.62L40.04,255.18L40.02,254.74L40.01,254.29L40.00,253.85L39.99,253.41L39.98,252.97L39.97,252.55L39.96,252.12L39.95,251.67L39.95,251.21L39.95,250.75L39.95,250.29L39.95,249.84L39.96,249.40L39.96,248.99L39.96,248.62L39.97,248.28L39.97,248.00L39.97,247.76Z" fill="#000"/>
<path d="M395.66,569.36L395.58,569.70L395.48,570.12L395.36,570.62L395.23,571.17L395.09,571.78L394.94,572.42L394.78,573.08L394.62,573.76L394.46,574.44L394.30,575.11L394.15,575.76L394.00,576.38L393.85,576.98L393.71,577.59L393.56,578.20L393.42,578.81L393.27,579.43L393.12,580.04L392.97,580.65L392.82,581.26L392.67,581.87L392.52,582.48L392.37,583.09L392.21,583.69L392.05,584.31L391.88,584.95L391.71,585.60L391.54,586.25L391.36,586.91L391.19,587.55L391.01,588.19L390.84,588.81L390.67,589.40L390.51,589.97L390.36,590.50L390.23,590.97L390.10,591.38L389.98,591.75L389.85,592.10L389.72,592.43L389.59,592.76L389.46,593.08L389.33,593.41L389.21,593.75L389.09,594.11L388.98,594.49L388.90,594.90L388.84,595.31L388.82,595.69L388.82,596.05L388.84,596.41L388.87,596.77L388.93,597.12L389.00,597.47L389.10,597.81L389.22,598.15L389.36,598.47L389.53,598.79L389.72,599.09L389.94,599.38L390.18,599.64L390.44,599.88L390.71,600.10L391.00,600.30L391.31,600.49L391.63,600.65L391.96,600.80L392.30,600.92L392.65,601.02L393.01,601.09L393.38,601.12L393.75,601.11L394.12,601.06L394.47,600.98L394.81,600.86L395.15,600.72L395.47,600.56L395.79,600.38L396.10,600.20L396.41,600.00L396.70,599.79L396.99,599.58L397.26,599.36L397.53,599.15L397.79,598.91L398.05,598.66L398.30,598.40L398.55,598.14L398.79,597.86L399.02,597.58L399.24,597.29L399.46,597.01L399.67,596.73L399.87,596.45L400.06,596.18L400.25,595.91L400.44,595.64L400.63,595.34L400.81,595.04L400.99,594.74L401.16,594.43L401.33,594.14L401.48,593.86L401.62,593.59L401.75,593.35L401.87,593.13L401.96,592.95L402.04,592.81L402.11,592.62L402.09,592.43L402.01,592.25L401.86,592.13L401.68,592.06L401.48,592.07L401.31,592.16L401.18,592.31L401.09,592.45L400.98,592.64L400.86,592.85L400.72,593.09L400.57,593.35L400.42,593.62L400.25,593.90L400.07,594.18L399.89,594.47L399.71,594.74L399.53,595.00L399.34,595.25L399.15,595.49L398.95,595.75L398.74,596.01L398.52,596.27L398.31,596.53L398.08,596.79L397.86,597.04L397.63,597.27L397.40,597.50L397.16,597.70L396.93,597.89L396.69,598.06L396.44,598.22L396.18,598.38L395.90,598.54L395.63,598.68L395.35,598.82L395.07,598.93L394.80,599.03L394.55,599.11L394.31,599.17L394.09,599.19L393.90,599.20L393.75,599.18L393.62,599.14L393.47,599.08L393.31,599.01L393.15,598.91L392.99,598.80L392.83,598.67L392.68,598.53L392.54,598.38L392.42,598.23L392.32,598.08L392.24,597.94L392.19,597.82L392.17,597.72L392.15,597.60L392.14,597.47L392.13,597.33L392.13,597.18L392.14,597.02L392.16,596.85L392.18,596.66L392.21,596.47L392.25,596.27L392.30,596.05L392.35,595.85L392.40,595.68L392.47,595.52L392.55,595.33L392.64,595.12L392.76,594.87L392.90,594.59L393.05,594.28L393.22,593.93L393.39,593.53L393.57,593.10L393.75,592.63L393.92,592.13L394.08,591.61L394.25,591.06L394.42,590.47L394.60,589.86L394.77,589.23L394.95,588.58L395.13,587.92L395.31,587.25L395.48,586.58L395.65,585.92L395.81,585.27L395.97,584.63L396.11,584.00L396.26,583.37L396.40,582.74L396.53,582.11L396.66,581.48L396.79,580.86L396.92,580.23L397.05,579.61L397.17,578.99L397.29,578.38L397.41,577.77L397.54,577.17L397.67,576.54L397.80,575.88L397.94,575.21L398.08,574.52L398.22,573.83L398.35,573.16L398.48,572.51L398.60,571.91L398.71,571.35L398.81,570.85L398.90,570.42L398.97,570.08Z" fill="#000"/>
<path d="M387.04,579.93L387.41,579.93L387.88,579.93L388.42,579.93L389.04,579.93L389.71,579.93L390.42,579.93L391.15,579.93L391.90,579.93L392.65,579.93L393.38,579.93L394.09,579.93L394.76,579.93L395.43,579.93L396.14,579.93L396.87,579.93L397.62,579.93L398.37,579.93L399.10,579.93L399.81,579.93L400.48,579.93L401.10,579.93L401.64,579.93L402.11,579.93L402.48,579.93L402.48,578.72L402.11,578.72L401.64,578.72L401.10,578.72L400.48,578.72L399.81,578.72L399.10,578.72L398.37,578.72L397.62,578.72L396.87,578.72L396.14,578.72L395.43,578.72L394.76,578.72L394.09,578.72L393.38,578.72L392.65,578.72L391.90,578.72L391.15,578.72L390.42,578.72L389.71,578.72L389.04,578.72L388.42,578.72L387.88,578.72L387.41,578.72L387.04,578.72Z" fill="#000"/>
<path d="M428.37,566.04L428.23,566.59L428.07,567.28L427.88,568.09L427.66,569.00L427.43,569.99L427.18,571.03L426.92,572.12L426.65,573.23L426.39,574.34L426.13,575.43L425.87,576.48L425.63,577.47L425.40,578.44L425.16,579.41L424.92,580.40L424.68,581.38L424.44,582.37L424.20,583.35L423.96,584.34L423.72,585.31L423.48,586.28L423.24,587.23L423.00,588.17L422.77,589.09L422.53,590.02L422.28,590.99L422.03,591.99L421.77,592.99L421.51,593.98L421.25,594.95L421.01,595.88L420.78,596.75L420.57,597.55L420.38,598.26L420.22,598.88L420.09,599.37L423.67,600.31L423.80,599.82L423.96,599.21L424.14,598.49L424.36,597.69L424.59,596.82L424.83,595.89L425.08,594.92L425.34,593.92L425.61,592.92L425.87,591.92L426.12,590.94L426.36,590.00L426.59,589.07L426.83,588.13L427.07,587.17L427.31,586.20L427.55,585.22L427.79,584.24L428.04,583.25L428.28,582.26L428.52,581.27L428.76,580.29L428.99,579.31L429.23,578.34L429.46,577.34L429.71,576.28L429.96,575.18L430.22,574.07L430.48,572.95L430.73,571.86L430.96,570.81L431.19,569.82L431.40,568.91L431.58,568.10L431.74,567.41L431.86,566.85Z" fill="#000"/>
<path d="M424.67,567.64L424.81,567.61L424.98,567.57L425.18,567.52L425.41,567.47L425.65,567.42L425.91,567.36L426.18,567.30L426.45,567.24L426.73,567.18L427.00,567.12L427.26,567.07L427.52,567.02L427.77,566.98L428.05,566.93L428.34,566.89L428.64,566.84L428.94,566.80L429.24,566.76L429.53,566.72L429.80,566.69L430.06,566.65L430.28,566.62L430.48,566.60L430.63,566.58L430.49,565.60L430.34,565.62L430.15,565.65L429.93,565.68L429.68,565.71L429.40,565.75L429.11,565.78L428.81,565.83L428.50,565.87L428.19,565.91L427.90,565.96L427.61,566.00L427.34,566.05L427.08,566.10L426.80,566.15L426.52,566.21L426.24,566.27L425.96,566.34L425.69,566.40L425.43,566.46L425.19,566.51L424.96,566.57L424.76,566.61L424.59,566.65L424.46,566.68Z" fill="#000"/>
<path d="M422.95,572.42L423.40,572.42L423.95,572.42L424.60,572.42L425.33,572.42L426.13,572.42L426.97,572.42L427.84,572.42L428.73,572.42L429.62,572.42L430.49,572.42L431.34,572.42L432.13,572.42L432.92,572.42L433.76,572.42L434.64,572.42L435.53,572.42L436.42,572.42L437.29,572.42L438.13,572.42L438.93,572.42L439.66,572.42L440.31,572.42L440.86,572.42L441.31,572.42L441.31,571.21L440.86,571.21L440.31,571.21L439.66,571.21L438.93,571.21L438.13,571.21L437.29,571.21L436.42,571.21L435.53,571.21L434.64,571.21L433.76,571.21L432.92,571.21L432.13,571.21L431.34,571.21L430.49,571.21L429.62,571.21L428.73,571.21L427.84,571.21L426.97,571.21L426.13,571.21L425.33,571.21L424.60,571.21L423.95,571.21L423.40,571.21L422.95,571.21Z" fill="#000"/>
<path d="M425.47,588.85L425.59,588.53L425.73,588.12L425.90,587.65L426.08,587.12L426.27,586.55L426.48,585.96L426.71,585.36L426.95,584.76L427.20,584.19L427.46,583.65L427.73,583.18L428.00,582.77L428.28,582.39L428.60,582.03L428.94,581.67L429.30,581.32L429.67,581.00L430.05,580.68L430.44,580.39L430.83,580.12L431.21,579.87L431.59,579.65L431.95,579.45L432.30,579.28L432.62,579.15L432.94,579.04L433.26,578.95L433.57,578.88L433.88,578.84L434.18,578.82L434.47,578.81L434.74,578.82L435.00,578.86L435.24,578.90L435.46,578.96L435.65,579.03L435.83,579.12L435.99,579.21L436.14,579.33L436.28,579.45L436.40,579.58L436.51,579.72L436.61,579.87L436.70,580.02L436.78,580.19L436.85,580.35L436.91,580.53L436.96,580.71L437.00,580.91L437.04,581.15L437.07,581.43L437.10,581.75L437.11,582.10L437.12,582.47L437.11,582.86L437.10,583.26L437.08,583.67L437.05,584.08L437.01,584.50L436.98,584.89L436.93,585.26L436.87,585.64L436.80,586.03L436.71,586.44L436.62,586.86L436.51,587.29L436.40,587.73L436.29,588.17L436.17,588.63L436.05,589.09L435.93,589.56L435.82,590.01L435.71,590.45L435.59,590.89L435.47,591.35L435.33,591.82L435.19,592.30L435.05,592.78L434.92,593.26L434.79,593.74L434.68,594.21L434.58,594.69L434.50,595.15L434.45,595.60L434.42,596.01L434.41,596.40L434.41,596.79L434.43,597.17L434.46,597.54L434.50,597.90L434.57,598.26L434.67,598.61L434.78,598.96L434.93,599.30L435.11,599.62L435.33,599.92L435.57,600.19L435.84,600.42L436.12,600.64L436.43,600.82L436.75,600.98L437.09,601.11L437.44,601.21L437.81,601.28L438.19,601.30L438.57,601.28L438.95,601.21L439.33,601.09L439.69,600.92L440.03,600.71L440.37,600.47L440.70,600.20L441.04,599.91L441.37,599.60L441.69,599.27L442.01,598.93L442.32,598.59L442.62,598.23L442.90,597.88L443.16,597.53L443.41,597.16L443.65,596.74L443.88,596.31L444.10,595.86L444.31,595.40L444.51,594.95L444.69,594.52L444.86,594.10L445.02,593.73L445.15,593.39L445.27,593.12L445.36,592.90L445.41,592.70L445.38,592.50L445.28,592.32L445.11,592.20L444.91,592.15L444.71,592.18L444.53,592.29L444.41,592.45L444.30,592.68L444.16,592.97L444.01,593.30L443.85,593.67L443.67,594.07L443.47,594.48L443.27,594.91L443.05,595.33L442.83,595.74L442.60,596.12L442.37,596.47L442.14,596.77L441.89,597.07L441.62,597.37L441.33,597.67L441.03,597.97L440.72,598.26L440.40,598.53L440.09,598.78L439.79,599.00L439.49,599.19L439.23,599.34L438.99,599.43L438.80,599.48L438.66,599.49L438.51,599.47L438.37,599.43L438.23,599.38L438.09,599.30L437.96,599.20L437.83,599.09L437.72,598.97L437.62,598.85L437.53,598.72L437.47,598.60L437.43,598.50L437.41,598.41L437.40,598.31L437.39,598.18L437.38,598.03L437.38,597.86L437.39,597.66L437.40,597.43L437.42,597.19L437.45,596.92L437.49,596.63L437.54,596.33L437.59,596.02L437.66,595.71L437.74,595.37L437.84,595.00L437.96,594.59L438.08,594.17L438.22,593.72L438.37,593.26L438.52,592.79L438.67,592.30L438.82,591.82L438.96,591.33L439.09,590.86L439.21,590.42L439.34,589.99L439.47,589.54L439.60,589.09L439.73,588.63L439.87,588.16L439.99,587.69L440.11,587.21L440.22,586.72L440.31,586.23L440.39,585.74L440.44,585.24L440.48,584.77L440.51,584.29L440.52,583.81L440.53,583.33L440.52,582.84L440.50,582.35L440.46,581.87L440.41,581.39L440.33,580.92L440.22,580.46L440.09,580.01L439.92,579.58L439.72,579.18L439.49,578.81L439.23,578.47L438.95,578.16L438.65,577.88L438.33,577.63L438.00,577.42L437.65,577.23L437.30,577.08L436.94,576.95L436.58,576.85L436.21,576.78L435.84,576.73L435.47,576.71L435.08,576.71L434.70,576.74L434.30,576.79L433.91,576.86L433.51,576.95L433.10,577.07L432.70,577.21L432.30,577.38L431.90,577.57L431.52,577.78L431.13,578.02L430.74,578.27L430.33,578.55L429.92,578.85L429.51,579.18L429.09,579.52L428.68,579.89L428.28,580.27L427.90,580.68L427.53,581.10L427.18,581.54L426.86,582.00L426.56,582.50L426.27,583.06L426.01,583.66L425.76,584.28L425.52,584.92L425.31,585.55L425.11,586.16L424.92,586.74L424.76,587.28L424.61,587.75L424.48,588.14L424.38,588.45L424.34,588.67L424.39,588.89L424.53,589.07L424.72,589.19L424.94,589.23L425.16,589.18L425.35,589.04Z" fill="#000"/>
</svg>
</body></html>
